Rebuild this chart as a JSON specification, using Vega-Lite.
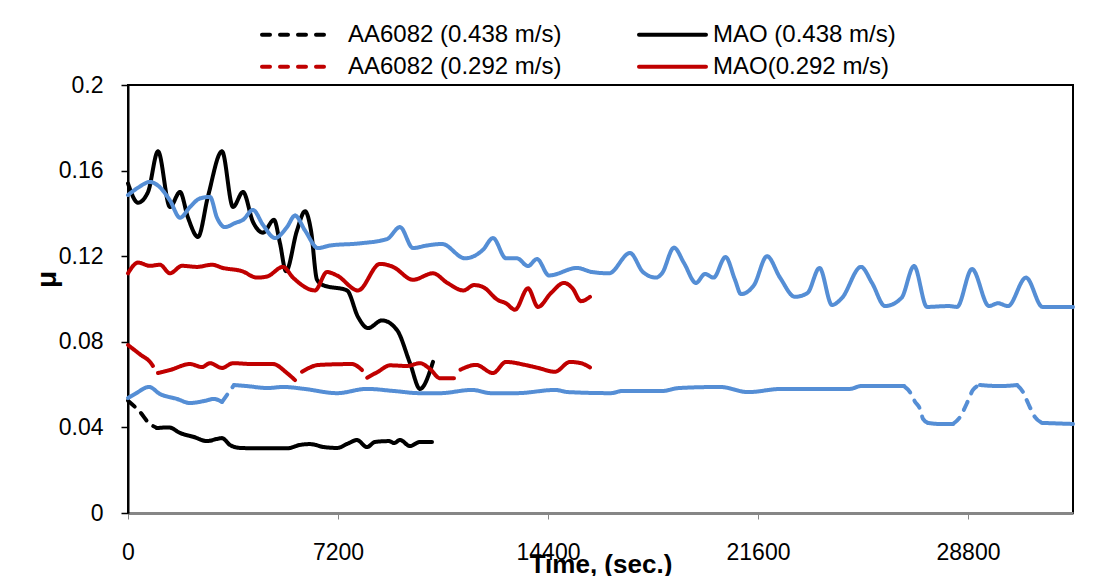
{
"$schema": "https://vega.github.io/schema/vega-lite/v6.json",
"width": 945, "height": 428,
"autosize": {"type": "none"},
"padding": {"left": 128, "top": 85, "right": 43, "bottom": 63},
"background": "white",
"config": {"font": "Liberation Sans", "view": {"stroke": "black", "strokeWidth": 2}, "axis": {"grid": false, "labelFont": "Liberation Sans", "labelColor": "black", "labelFontSize": 23, "titleFont": "Liberation Sans", "titleColor": "black", "titleFontWeight": "bold"},
  "legend": {"title": null, "orient": "none", "direction": "horizontal", "columns": 2, "symbolType": "stroke", "symbolSize": 4489, "symbolStrokeWidth": 4, "labelFontSize": 24, "labelFont": "Liberation Sans", "labelColor": "black", "labelLimit": 400, "labelOffset": 17, "columnPadding": 69}},
"data": {"values": [
{"series":"MAO (0.438 m/s)","seg":"m1","style":"s","time":0,"mu":0.154},
{"series":"MAO (0.438 m/s)","seg":"m1","style":"s","time":343,"mu":0.145},
{"series":"MAO (0.438 m/s)","seg":"m1","style":"s","time":686,"mu":0.150},
{"series":"MAO (0.438 m/s)","seg":"m1","style":"s","time":1029,"mu":0.169},
{"series":"MAO (0.438 m/s)","seg":"m1","style":"s","time":1440,"mu":0.143},
{"series":"MAO (0.438 m/s)","seg":"m1","style":"s","time":1783,"mu":0.150},
{"series":"MAO (0.438 m/s)","seg":"m1","style":"s","time":2057,"mu":0.138},
{"series":"MAO (0.438 m/s)","seg":"m1","style":"s","time":2400,"mu":0.129},
{"series":"MAO (0.438 m/s)","seg":"m1","style":"s","time":2743,"mu":0.148},
{"series":"MAO (0.438 m/s)","seg":"m1","style":"s","time":3223,"mu":0.169},
{"series":"MAO (0.438 m/s)","seg":"m1","style":"s","time":3600,"mu":0.143},
{"series":"MAO (0.438 m/s)","seg":"m1","style":"s","time":3943,"mu":0.150},
{"series":"MAO (0.438 m/s)","seg":"m1","style":"s","time":4286,"mu":0.136},
{"series":"MAO (0.438 m/s)","seg":"m1","style":"s","time":4629,"mu":0.131},
{"series":"MAO (0.438 m/s)","seg":"m1","style":"s","time":5006,"mu":0.137},
{"series":"MAO (0.438 m/s)","seg":"m1","style":"s","time":5211,"mu":0.126},
{"series":"MAO (0.438 m/s)","seg":"m1","style":"s","time":5417,"mu":0.113},
{"series":"MAO (0.438 m/s)","seg":"m1","style":"s","time":5794,"mu":0.132},
{"series":"MAO (0.438 m/s)","seg":"m1","style":"s","time":6069,"mu":0.141},
{"series":"MAO (0.438 m/s)","seg":"m1","style":"s","time":6274,"mu":0.132},
{"series":"MAO (0.438 m/s)","seg":"m1","style":"s","time":6480,"mu":0.109},
{"series":"MAO (0.438 m/s)","seg":"m1","style":"s","time":6686,"mu":0.1065},
{"series":"MAO (0.438 m/s)","seg":"m1","style":"s","time":7509,"mu":0.104},
{"series":"MAO (0.438 m/s)","seg":"m1","style":"s","time":7886,"mu":0.0916},
{"series":"MAO (0.438 m/s)","seg":"m1","style":"s","time":8229,"mu":0.0864},
{"series":"MAO (0.438 m/s)","seg":"m1","style":"s","time":8709,"mu":0.090},
{"series":"MAO (0.438 m/s)","seg":"m1","style":"s","time":9223,"mu":0.0855},
{"series":"MAO (0.438 m/s)","seg":"m1","style":"s","time":9669,"mu":0.070},
{"series":"MAO (0.438 m/s)","seg":"m1","style":"s","time":10011,"mu":0.058},
{"series":"MAO (0.438 m/s)","seg":"m1","style":"s","time":10457,"mu":0.0706},
{"series":"AA6082 (0.438 m/s)","seg":"k1","style":"d","time":0,"mu":0.0525},
{"series":"AA6082 (0.438 m/s)","seg":"k1","style":"d","time":411,"mu":0.0472},
{"series":"AA6082 (0.438 m/s)","seg":"k1","style":"d","time":720,"mu":0.042},
{"series":"AA6082 (0.438 m/s)","seg":"k1","style":"d","time":994,"mu":0.0397},
{"series":"AA6082 (0.438 m/s)","seg":"k2","style":"s","time":994,"mu":0.0397},
{"series":"AA6082 (0.438 m/s)","seg":"k2","style":"s","time":1406,"mu":0.040},
{"series":"AA6082 (0.438 m/s)","seg":"k2","style":"s","time":1783,"mu":0.0374},
{"series":"AA6082 (0.438 m/s)","seg":"k2","style":"s","time":2263,"mu":0.0355},
{"series":"AA6082 (0.438 m/s)","seg":"k2","style":"s","time":2709,"mu":0.0336},
{"series":"AA6082 (0.438 m/s)","seg":"k2","style":"s","time":3051,"mu":0.0346},
{"series":"AA6082 (0.438 m/s)","seg":"k2","style":"s","time":3223,"mu":0.035},
{"series":"AA6082 (0.438 m/s)","seg":"k2","style":"s","time":3497,"mu":0.0318},
{"series":"AA6082 (0.438 m/s)","seg":"k2","style":"s","time":3840,"mu":0.0304},
{"series":"AA6082 (0.438 m/s)","seg":"k2","style":"s","time":4526,"mu":0.0302},
{"series":"AA6082 (0.438 m/s)","seg":"k2","style":"s","time":5451,"mu":0.0302},
{"series":"AA6082 (0.438 m/s)","seg":"k2","style":"s","time":5897,"mu":0.0318},
{"series":"AA6082 (0.438 m/s)","seg":"k2","style":"s","time":6240,"mu":0.0322},
{"series":"AA6082 (0.438 m/s)","seg":"k2","style":"s","time":6720,"mu":0.0308},
{"series":"AA6082 (0.438 m/s)","seg":"k2","style":"s","time":7166,"mu":0.0304},
{"series":"AA6082 (0.438 m/s)","seg":"k2","style":"s","time":7577,"mu":0.0327},
{"series":"AA6082 (0.438 m/s)","seg":"k2","style":"s","time":7851,"mu":0.0341},
{"series":"AA6082 (0.438 m/s)","seg":"k2","style":"s","time":8194,"mu":0.0308},
{"series":"AA6082 (0.438 m/s)","seg":"k2","style":"s","time":8469,"mu":0.0332},
{"series":"AA6082 (0.438 m/s)","seg":"k2","style":"s","time":8949,"mu":0.0336},
{"series":"AA6082 (0.438 m/s)","seg":"k2","style":"s","time":9120,"mu":0.0327},
{"series":"AA6082 (0.438 m/s)","seg":"k2","style":"s","time":9326,"mu":0.0341},
{"series":"AA6082 (0.438 m/s)","seg":"k2","style":"s","time":9669,"mu":0.0313},
{"series":"AA6082 (0.438 m/s)","seg":"k2","style":"s","time":10011,"mu":0.0332},
{"series":"AA6082 (0.438 m/s)","seg":"k2","style":"s","time":10423,"mu":0.0332},
{"series":"MAO(0.292 m/s)","seg":"n1","style":"s","time":0,"mu":0.112},
{"series":"MAO(0.292 m/s)","seg":"n1","style":"s","time":343,"mu":0.117},
{"series":"MAO(0.292 m/s)","seg":"n1","style":"s","time":754,"mu":0.1155},
{"series":"MAO(0.292 m/s)","seg":"n1","style":"s","time":1097,"mu":0.116},
{"series":"MAO(0.292 m/s)","seg":"n1","style":"s","time":1440,"mu":0.112},
{"series":"MAO(0.292 m/s)","seg":"n1","style":"s","time":1851,"mu":0.1155},
{"series":"MAO(0.292 m/s)","seg":"n1","style":"s","time":2366,"mu":0.115},
{"series":"MAO(0.292 m/s)","seg":"n1","style":"s","time":2880,"mu":0.116},
{"series":"MAO(0.292 m/s)","seg":"n1","style":"s","time":3257,"mu":0.1145},
{"series":"MAO(0.292 m/s)","seg":"n1","style":"s","time":3909,"mu":0.113},
{"series":"MAO(0.292 m/s)","seg":"n1","style":"s","time":4423,"mu":0.110},
{"series":"MAO(0.292 m/s)","seg":"n1","style":"s","time":4766,"mu":0.1105},
{"series":"MAO(0.292 m/s)","seg":"n1","style":"s","time":5314,"mu":0.115},
{"series":"MAO(0.292 m/s)","seg":"n1","style":"s","time":5657,"mu":0.110},
{"series":"MAO(0.292 m/s)","seg":"n1","style":"s","time":6411,"mu":0.104},
{"series":"MAO(0.292 m/s)","seg":"n1","style":"s","time":6823,"mu":0.1126},
{"series":"MAO(0.292 m/s)","seg":"n1","style":"s","time":7166,"mu":0.111},
{"series":"MAO(0.292 m/s)","seg":"n1","style":"s","time":7886,"mu":0.104},
{"series":"MAO(0.292 m/s)","seg":"n1","style":"s","time":8640,"mu":0.1164},
{"series":"MAO(0.292 m/s)","seg":"n1","style":"s","time":9086,"mu":0.115},
{"series":"MAO(0.292 m/s)","seg":"n1","style":"s","time":9771,"mu":0.109},
{"series":"MAO(0.292 m/s)","seg":"n1","style":"s","time":10457,"mu":0.112},
{"series":"MAO(0.292 m/s)","seg":"n1","style":"s","time":10950,"mu":0.1075},
{"series":"MAO(0.292 m/s)","seg":"n1","style":"s","time":11503,"mu":0.104},
{"series":"MAO(0.292 m/s)","seg":"n1","style":"s","time":11863,"mu":0.1065},
{"series":"MAO(0.292 m/s)","seg":"n1","style":"s","time":12171,"mu":0.1056},
{"series":"MAO(0.292 m/s)","seg":"n1","style":"s","time":12686,"mu":0.0995},
{"series":"MAO(0.292 m/s)","seg":"n1","style":"s","time":12960,"mu":0.098},
{"series":"MAO(0.292 m/s)","seg":"n1","style":"s","time":13269,"mu":0.095},
{"series":"MAO(0.292 m/s)","seg":"n1","style":"s","time":13714,"mu":0.105},
{"series":"MAO(0.292 m/s)","seg":"n1","style":"s","time":14057,"mu":0.0963},
{"series":"MAO(0.292 m/s)","seg":"n1","style":"s","time":14503,"mu":0.1028},
{"series":"MAO(0.292 m/s)","seg":"n1","style":"s","time":14949,"mu":0.1075},
{"series":"MAO(0.292 m/s)","seg":"n1","style":"s","time":15240,"mu":0.105},
{"series":"MAO(0.292 m/s)","seg":"n1","style":"s","time":15531,"mu":0.099},
{"series":"MAO(0.292 m/s)","seg":"n1","style":"s","time":15840,"mu":0.101},
{"series":"AA6082 (0.292 m/s)","seg":"r1","style":"s","time":0,"mu":0.0785},
{"series":"AA6082 (0.292 m/s)","seg":"r1","style":"s","time":446,"mu":0.0738},
{"series":"AA6082 (0.292 m/s)","seg":"r1","style":"s","time":754,"mu":0.0706},
{"series":"AA6082 (0.292 m/s)","seg":"r1","style":"s","time":857,"mu":0.0687},
{"series":"AA6082 (0.292 m/s)","seg":"r2","style":"s","time":1029,"mu":0.0654},
{"series":"AA6082 (0.292 m/s)","seg":"r2","style":"s","time":1440,"mu":0.0668},
{"series":"AA6082 (0.292 m/s)","seg":"r2","style":"s","time":2126,"mu":0.0696},
{"series":"AA6082 (0.292 m/s)","seg":"r2","style":"s","time":2537,"mu":0.0682},
{"series":"AA6082 (0.292 m/s)","seg":"r2","style":"s","time":2811,"mu":0.070},
{"series":"AA6082 (0.292 m/s)","seg":"r2","style":"s","time":3223,"mu":0.0678},
{"series":"AA6082 (0.292 m/s)","seg":"r2","style":"s","time":3600,"mu":0.070},
{"series":"AA6082 (0.292 m/s)","seg":"r2","style":"s","time":4286,"mu":0.0696},
{"series":"AA6082 (0.292 m/s)","seg":"r2","style":"s","time":4971,"mu":0.0696},
{"series":"AA6082 (0.292 m/s)","seg":"r2","style":"s","time":5451,"mu":0.0654},
{"series":"AA6082 (0.292 m/s)","seg":"r2","style":"s","time":5726,"mu":0.0621},
{"series":"AA6082 (0.292 m/s)","seg":"r3","style":"s","time":5966,"mu":0.0660},
{"series":"AA6082 (0.292 m/s)","seg":"r3","style":"s","time":6549,"mu":0.0692},
{"series":"AA6082 (0.292 m/s)","seg":"r3","style":"s","time":7680,"mu":0.0696},
{"series":"AA6082 (0.292 m/s)","seg":"r3","style":"s","time":8023,"mu":0.0668},
{"series":"AA6082 (0.292 m/s)","seg":"r4","style":"s","time":8200,"mu":0.0632},
{"series":"AA6082 (0.292 m/s)","seg":"r4","style":"s","time":8571,"mu":0.066},
{"series":"AA6082 (0.292 m/s)","seg":"r4","style":"s","time":8983,"mu":0.069},
{"series":"AA6082 (0.292 m/s)","seg":"r4","style":"s","time":9566,"mu":0.0687},
{"series":"AA6082 (0.292 m/s)","seg":"r4","style":"s","time":10011,"mu":0.070},
{"series":"AA6082 (0.292 m/s)","seg":"r4","style":"s","time":10354,"mu":0.0673},
{"series":"AA6082 (0.292 m/s)","seg":"r4","style":"s","time":10697,"mu":0.063},
{"series":"AA6082 (0.292 m/s)","seg":"r4","style":"s","time":11177,"mu":0.063},
{"series":"AA6082 (0.292 m/s)","seg":"r5","style":"s","time":11400,"mu":0.0670},
{"series":"AA6082 (0.292 m/s)","seg":"r5","style":"s","time":11931,"mu":0.0692},
{"series":"AA6082 (0.292 m/s)","seg":"r5","style":"s","time":12514,"mu":0.0654},
{"series":"AA6082 (0.292 m/s)","seg":"r5","style":"s","time":12960,"mu":0.0706},
{"series":"AA6082 (0.292 m/s)","seg":"r5","style":"s","time":13611,"mu":0.0692},
{"series":"AA6082 (0.292 m/s)","seg":"r5","style":"s","time":14057,"mu":0.0678},
{"series":"AA6082 (0.292 m/s)","seg":"r5","style":"s","time":14640,"mu":0.066},
{"series":"AA6082 (0.292 m/s)","seg":"r5","style":"s","time":15154,"mu":0.0706},
{"series":"AA6082 (0.292 m/s)","seg":"r5","style":"s","time":15531,"mu":0.070},
{"series":"AA6082 (0.292 m/s)","seg":"r5","style":"s","time":15840,"mu":0.068},
{"series":"B1","seg":"u1","style":"s","time":0,"mu":0.1486},
{"series":"B1","seg":"u1","style":"s","time":343,"mu":0.152},
{"series":"B1","seg":"u1","style":"s","time":754,"mu":0.1547},
{"series":"B1","seg":"u1","style":"s","time":1029,"mu":0.153},
{"series":"B1","seg":"u1","style":"s","time":1440,"mu":0.146},
{"series":"B1","seg":"u1","style":"s","time":1783,"mu":0.138},
{"series":"B1","seg":"u1","style":"s","time":2126,"mu":0.143},
{"series":"B1","seg":"u1","style":"s","time":2469,"mu":0.147},
{"series":"B1","seg":"u1","style":"s","time":2811,"mu":0.1477},
{"series":"B1","seg":"u1","style":"s","time":3051,"mu":0.138},
{"series":"B1","seg":"u1","style":"s","time":3326,"mu":0.1336},
{"series":"B1","seg":"u1","style":"s","time":3669,"mu":0.1355},
{"series":"B1","seg":"u1","style":"s","time":3943,"mu":0.137},
{"series":"B1","seg":"u1","style":"s","time":4286,"mu":0.1416},
{"series":"B1","seg":"u1","style":"s","time":4629,"mu":0.1346},
{"series":"B1","seg":"u1","style":"s","time":5040,"mu":0.1285},
{"series":"B1","seg":"u1","style":"s","time":5451,"mu":0.1336},
{"series":"B1","seg":"u1","style":"s","time":5726,"mu":0.139},
{"series":"B1","seg":"u1","style":"s","time":6069,"mu":0.132},
{"series":"B1","seg":"u1","style":"s","time":6514,"mu":0.1238},
{"series":"B1","seg":"u1","style":"s","time":6926,"mu":0.125},
{"series":"B1","seg":"u1","style":"s","time":7954,"mu":0.126},
{"series":"B1","seg":"u1","style":"s","time":8880,"mu":0.128},
{"series":"B1","seg":"u1","style":"s","time":9326,"mu":0.1336},
{"series":"B1","seg":"u1","style":"s","time":9771,"mu":0.1238},
{"series":"B1","seg":"u1","style":"s","time":10251,"mu":0.125},
{"series":"B1","seg":"u1","style":"s","time":10766,"mu":0.1257},
{"series":"B1","seg":"u1","style":"s","time":11554,"mu":0.119},
{"series":"B1","seg":"u1","style":"s","time":12171,"mu":0.123},
{"series":"B1","seg":"u1","style":"s","time":12514,"mu":0.1285},
{"series":"B1","seg":"u1","style":"s","time":12960,"mu":0.119},
{"series":"B1","seg":"u1","style":"s","time":13337,"mu":0.119},
{"series":"B1","seg":"u1","style":"s","time":13714,"mu":0.1154},
{"series":"B1","seg":"u1","style":"s","time":14023,"mu":0.1187},
{"series":"B1","seg":"u1","style":"s","time":14434,"mu":0.111},
{"series":"B1","seg":"u1","style":"s","time":15394,"mu":0.1145},
{"series":"B1","seg":"u1","style":"s","time":15909,"mu":0.1126},
{"series":"B1","seg":"u1","style":"s","time":16491,"mu":0.112},
{"series":"B1","seg":"u1","style":"s","time":17211,"mu":0.1215},
{"series":"B1","seg":"u1","style":"s","time":17657,"mu":0.1126},
{"series":"B1","seg":"u1","style":"s","time":18103,"mu":0.110},
{"series":"B1","seg":"u1","style":"s","time":18309,"mu":0.112},
{"series":"B1","seg":"u1","style":"s","time":18720,"mu":0.124},
{"series":"B1","seg":"u1","style":"s","time":19063,"mu":0.1168},
{"series":"B1","seg":"u1","style":"s","time":19474,"mu":0.1075},
{"series":"B1","seg":"u1","style":"s","time":19783,"mu":0.1117},
{"series":"B1","seg":"u1","style":"s","time":20074,"mu":0.110},
{"series":"B1","seg":"u1","style":"s","time":20486,"mu":0.1196},
{"series":"B1","seg":"u1","style":"s","time":20811,"mu":0.109},
{"series":"B1","seg":"u1","style":"s","time":21017,"mu":0.1023},
{"series":"B1","seg":"u1","style":"s","time":21463,"mu":0.1065},
{"series":"B1","seg":"u1","style":"s","time":21909,"mu":0.120},
{"series":"B1","seg":"u1","style":"s","time":22354,"mu":0.110},
{"series":"B1","seg":"u1","style":"s","time":22869,"mu":0.101},
{"series":"B1","seg":"u1","style":"s","time":23297,"mu":0.1028},
{"series":"B1","seg":"u1","style":"s","time":23709,"mu":0.1145},
{"series":"B1","seg":"u1","style":"s","time":24137,"mu":0.0972},
{"series":"B1","seg":"u1","style":"s","time":24480,"mu":0.1005},
{"series":"B1","seg":"u1","style":"s","time":25131,"mu":0.115},
{"series":"B1","seg":"u1","style":"s","time":25509,"mu":0.1075},
{"series":"B1","seg":"u1","style":"s","time":25954,"mu":0.0967},
{"series":"B1","seg":"u1","style":"s","time":26520,"mu":0.1005},
{"series":"B1","seg":"u1","style":"s","time":26949,"mu":0.1154},
{"series":"B1","seg":"u1","style":"s","time":27394,"mu":0.0963},
{"series":"B1","seg":"u1","style":"s","time":28131,"mu":0.0967},
{"series":"B1","seg":"u1","style":"s","time":28423,"mu":0.0963},
{"series":"B1","seg":"u1","style":"s","time":28937,"mu":0.114},
{"series":"B1","seg":"u1","style":"s","time":29520,"mu":0.0967},
{"series":"B1","seg":"u1","style":"s","time":29829,"mu":0.098},
{"series":"B1","seg":"u1","style":"s","time":30171,"mu":0.0967},
{"series":"B1","seg":"u1","style":"s","time":30789,"mu":0.110},
{"series":"B1","seg":"u1","style":"s","time":31354,"mu":0.0963},
{"series":"B1","seg":"u1","style":"s","time":32400,"mu":0.0963},
{"series":"B2","seg":"b1","style":"s","time":0,"mu":0.0537},
{"series":"B2","seg":"b1","style":"s","time":240,"mu":0.0556},
{"series":"B2","seg":"b1","style":"s","time":720,"mu":0.0589},
{"series":"B2","seg":"b1","style":"s","time":1097,"mu":0.0556},
{"series":"B2","seg":"b1","style":"s","time":1680,"mu":0.0533},
{"series":"B2","seg":"b1","style":"s","time":2126,"mu":0.0514},
{"series":"B2","seg":"b1","style":"s","time":2606,"mu":0.0523},
{"series":"B2","seg":"b1","style":"s","time":2949,"mu":0.0533},
{"series":"B2","seg":"b1","style":"s","time":3223,"mu":0.0519},
{"series":"B2","seg":"b2","style":"d","time":3223,"mu":0.0519},
{"series":"B2","seg":"b2","style":"d","time":3463,"mu":0.0565},
{"series":"B2","seg":"b2","style":"d","time":3634,"mu":0.0598},
{"series":"B2","seg":"b3","style":"s","time":3634,"mu":0.0598},
{"series":"B2","seg":"b3","style":"s","time":4080,"mu":0.0593},
{"series":"B2","seg":"b3","style":"s","time":4766,"mu":0.0584},
{"series":"B2","seg":"b3","style":"s","time":5349,"mu":0.0589},
{"series":"B2","seg":"b3","style":"s","time":6034,"mu":0.058},
{"series":"B2","seg":"b3","style":"s","time":7166,"mu":0.056},
{"series":"B2","seg":"b3","style":"s","time":8194,"mu":0.058},
{"series":"B2","seg":"b3","style":"s","time":9120,"mu":0.057},
{"series":"B2","seg":"b3","style":"s","time":10011,"mu":0.056},
{"series":"B2","seg":"b3","style":"s","time":10697,"mu":0.056},
{"series":"B2","seg":"b3","style":"s","time":11794,"mu":0.0575},
{"series":"B2","seg":"b3","style":"s","time":12446,"mu":0.056},
{"series":"B2","seg":"b3","style":"s","time":13337,"mu":0.056},
{"series":"B2","seg":"b3","style":"s","time":14640,"mu":0.0575},
{"series":"B2","seg":"b3","style":"s","time":15086,"mu":0.0565},
{"series":"B2","seg":"b3","style":"s","time":16560,"mu":0.056},
{"series":"B2","seg":"b3","style":"s","time":16937,"mu":0.057},
{"series":"B2","seg":"b3","style":"s","time":18309,"mu":0.057},
{"series":"B2","seg":"b3","style":"s","time":18891,"mu":0.0584},
{"series":"B2","seg":"b3","style":"s","time":20297,"mu":0.0589},
{"series":"B2","seg":"b3","style":"s","time":21257,"mu":0.0565},
{"series":"B2","seg":"b3","style":"s","time":22423,"mu":0.058},
{"series":"B2","seg":"b3","style":"s","time":24754,"mu":0.058},
{"series":"B2","seg":"b3","style":"s","time":25131,"mu":0.0593},
{"series":"B2","seg":"b3","style":"s","time":26606,"mu":0.0593},
{"series":"B2","seg":"b4","style":"d","time":26606,"mu":0.0593},
{"series":"B2","seg":"b4","style":"d","time":26811,"mu":0.0565},
{"series":"B2","seg":"b4","style":"d","time":26983,"mu":0.052},
{"series":"B2","seg":"b4","style":"d","time":27154,"mu":0.0486},
{"series":"B2","seg":"b4","style":"d","time":27257,"mu":0.044},
{"series":"B2","seg":"b4","style":"d","time":27429,"mu":0.0421},
{"series":"B2","seg":"b5","style":"s","time":27429,"mu":0.0421},
{"series":"B2","seg":"b5","style":"s","time":27840,"mu":0.0416},
{"series":"B2","seg":"b5","style":"s","time":28286,"mu":0.0416},
{"series":"B2","seg":"b6","style":"d","time":28286,"mu":0.0416},
{"series":"B2","seg":"b6","style":"d","time":28526,"mu":0.0448},
{"series":"B2","seg":"b6","style":"d","time":28766,"mu":0.0514},
{"series":"B2","seg":"b6","style":"d","time":28971,"mu":0.0575},
{"series":"B2","seg":"b6","style":"d","time":29211,"mu":0.0598},
{"series":"B2","seg":"b7","style":"s","time":29211,"mu":0.0598},
{"series":"B2","seg":"b7","style":"s","time":29897,"mu":0.0593},
{"series":"B2","seg":"b7","style":"s","time":30480,"mu":0.0598},
{"series":"B2","seg":"b8","style":"d","time":30480,"mu":0.0598},
{"series":"B2","seg":"b8","style":"d","time":30686,"mu":0.0565},
{"series":"B2","seg":"b8","style":"d","time":30857,"mu":0.0514},
{"series":"B2","seg":"b8","style":"d","time":31097,"mu":0.0448},
{"series":"B2","seg":"b8","style":"d","time":31337,"mu":0.0421},
{"series":"B2","seg":"b9","style":"s","time":31337,"mu":0.0421},
{"series":"B2","seg":"b9","style":"s","time":32400,"mu":0.0416}
]},
"encoding": {
  "x": {"field": "time", "type": "quantitative", "scale": {"domain": [0, 32400], "nice": false, "zero": false},
    "axis": {"title": "Time, (sec.)", "values": [0, 7200, 14400, 21600, 28800], "format": "d", "labelFlush": false, "domainColor": "#868686", "domainWidth": 3, "tickColor": "#868686", "tickWidth": 1, "tickSize": 6, "labelPadding": 22, "titleFontSize": 26, "titleY": 59, "titleBaseline": "alphabetic"}},
  "y": {"field": "mu", "type": "quantitative", "scale": {"domain": [0, 0.2], "nice": false},
    "axis": {"title": "μ", "values": [0, 0.04, 0.08, 0.12, 0.16, 0.2], "format": "~g", "domainColor": "black", "domainWidth": 2, "tickColor": "black", "tickWidth": 1.5, "tickSize": 7, "labelPadding": 18, "titleFontSize": 28, "titleAngle": 270, "titleX": -81, "titleY": 194, "titleBaseline": "middle", "titleAlign": "center"}},
  "strokeDash": {"field": "style", "type": "nominal", "scale": {"domain": ["s", "d"], "range": [[1, 0], [9, 9]]}, "legend": null},
  "detail": {"field": "seg", "type": "nominal"}
},
"layer": [
  {
    "transform": [{"filter": {"field": "series", "oneOf": ["AA6082 (0.438 m/s)", "MAO (0.438 m/s)"]}}],
    "mark": {"type": "line", "strokeWidth": 4, "strokeCap": "round", "strokeJoin": "round", "interpolate": "monotone"},
    "encoding": {
      "color": {"field": "series", "type": "nominal",
        "scale": {"domain": ["AA6082 (0.438 m/s)", "MAO (0.438 m/s)"], "range": ["#000000", "#000000"]},
        "legend": {"legendX": 132, "legendY": -86,
          "encode": {"symbols": {"update": {"strokeDash": {"signal": "test(/AA6082/, datum.value) ? [8,10] : [1,0]"}, "strokeCap": {"value": "round"}}}, "labels": {"update": {"dx": {"signal": "test(/MAO/, datum.value) ? -12 : 0"}}}}}}
    }
  },
  {
    "transform": [{"filter": {"field": "series", "oneOf": ["AA6082 (0.292 m/s)", "MAO(0.292 m/s)"]}}],
    "mark": {"type": "line", "strokeWidth": 4, "strokeCap": "round", "strokeJoin": "round", "interpolate": "monotone"},
    "encoding": {
      "color": {"field": "series", "type": "nominal",
        "scale": {"domain": ["AA6082 (0.292 m/s)", "MAO(0.292 m/s)"], "range": ["#C00000", "#C00000"]},
        "legend": {"legendX": 132, "legendY": -54,
          "encode": {"symbols": {"update": {"strokeDash": {"signal": "test(/AA6082/, datum.value) ? [8,10] : [1,0]"}, "strokeCap": {"value": "round"}}}, "labels": {"update": {"dx": {"signal": "test(/MAO/, datum.value) ? -12 : 0"}}}}}}
    }
  },
  {
    "transform": [{"filter": {"field": "series", "oneOf": ["B1", "B2"]}}],
    "mark": {"type": "line", "strokeWidth": 4, "strokeCap": "round", "strokeJoin": "round", "interpolate": "monotone", "color": "#558ED5"},
    "encoding": {}
  }
],
"resolve": {"scale": {"color": "independent"}, "legend": {"color": "independent"}}
}
